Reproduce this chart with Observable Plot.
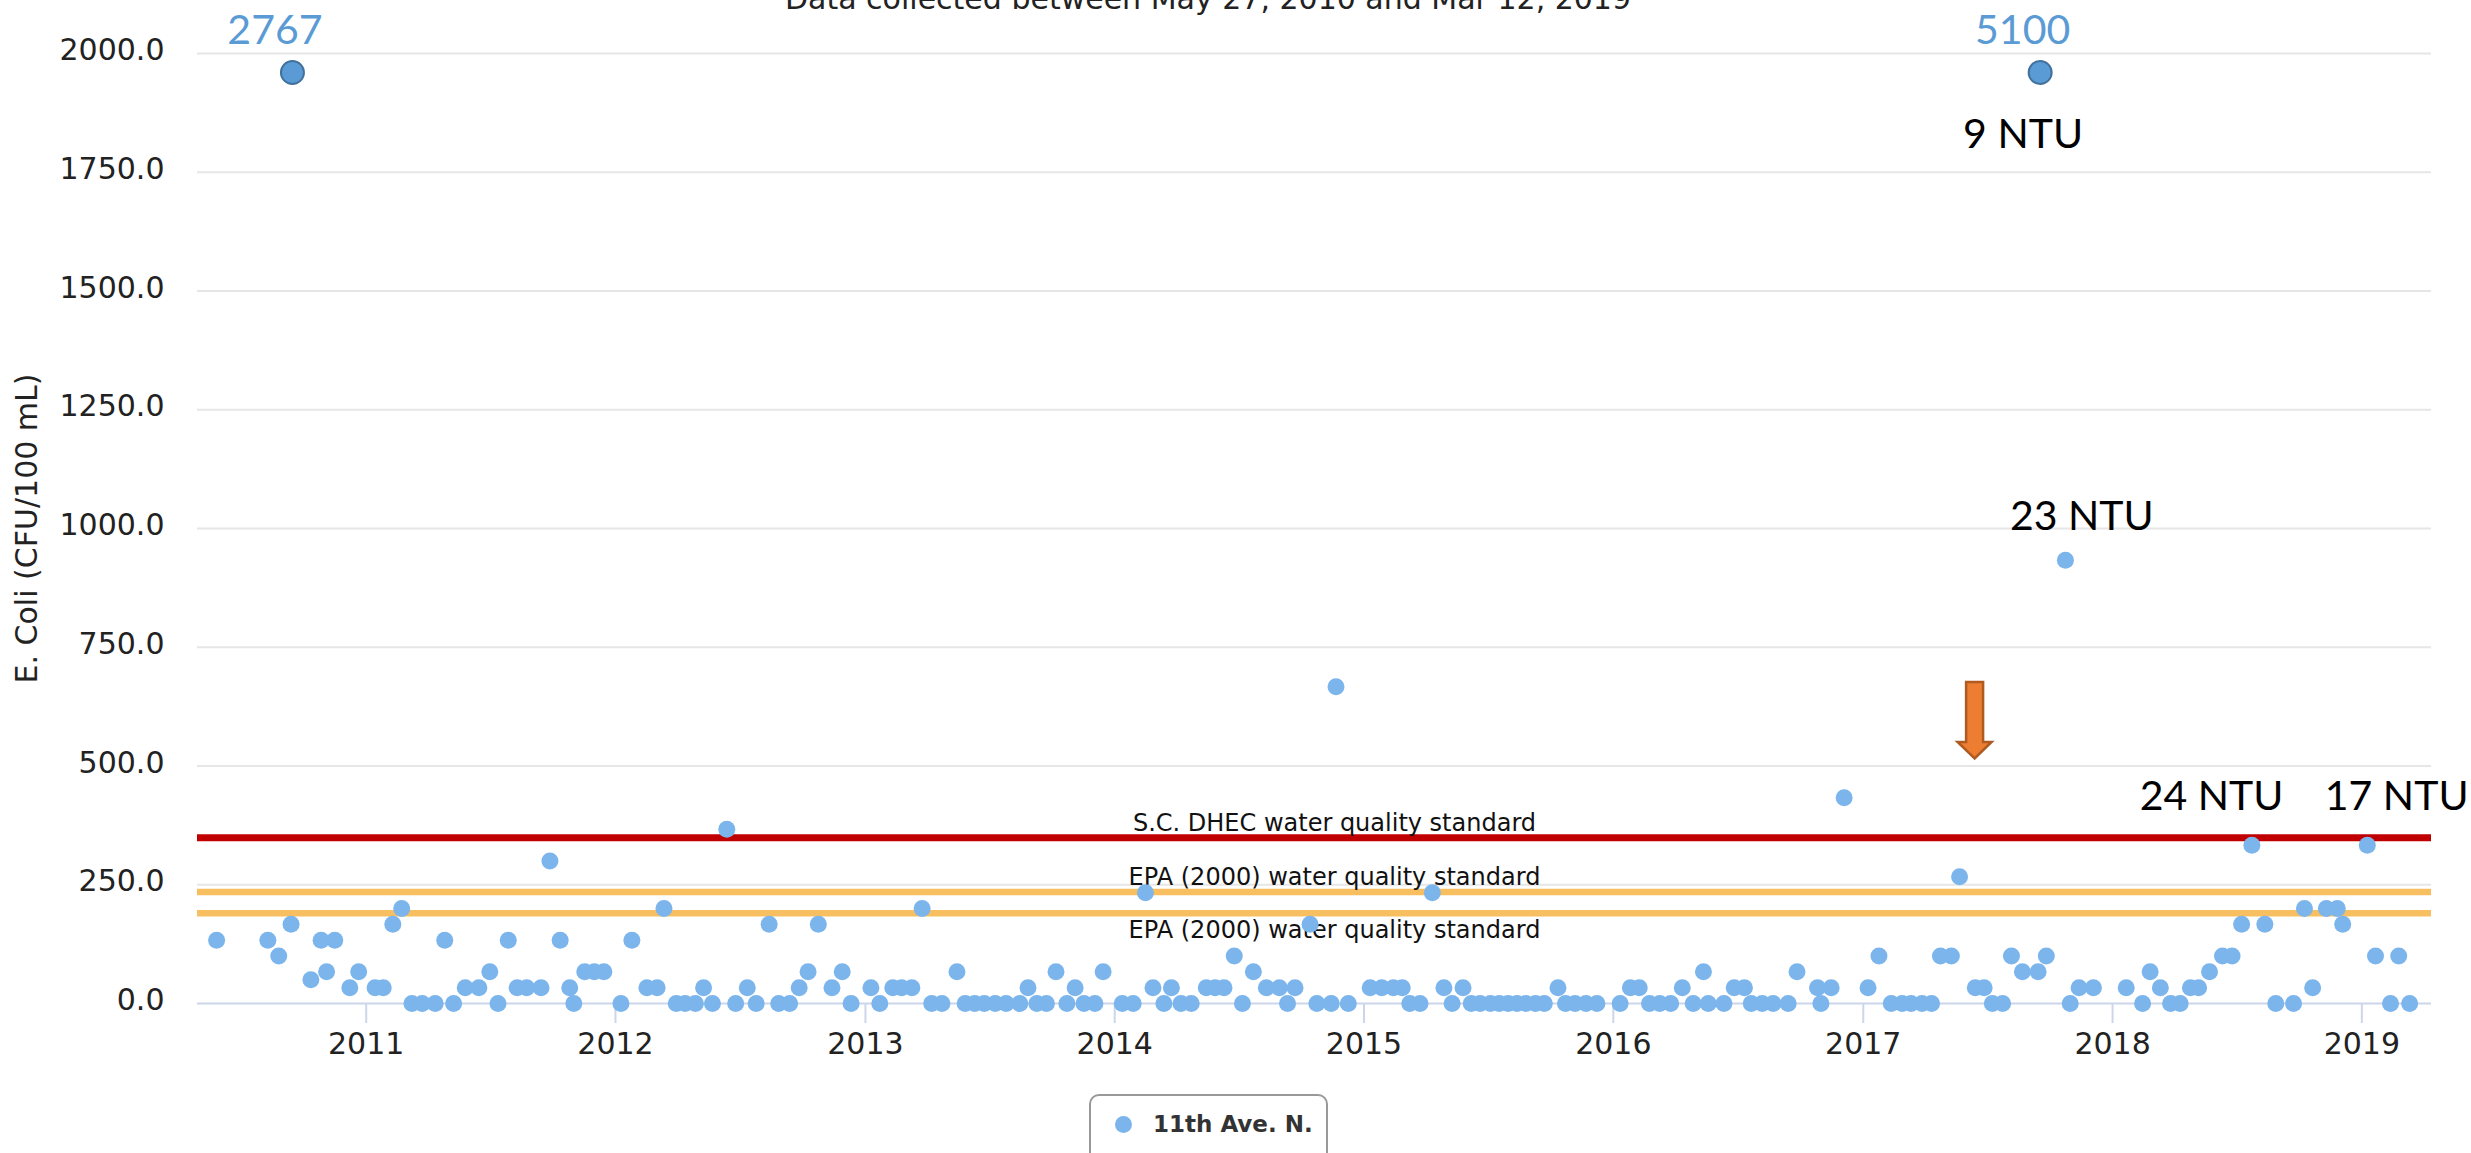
<!DOCTYPE html>
<html>
<head>
<meta charset="utf-8">
<script src="https://cdn.jsdelivr.net/npm/d3@7"></script>
<script src="https://cdn.jsdelivr.net/npm/@observablehq/plot@0.6"></script>
<style>
html, body { margin: 0; padding: 0; background: #fff; overflow: hidden; }
#wrap { position: relative; width: 2471px; height: 1153px; overflow: hidden; font-family: "DejaVu Sans", sans-serif; }
#title { position: absolute; left: 0; top: -16px; width: 2416px; text-align: center; font-size: 30px; line-height: 30px; color: #222; white-space: nowrap; }
#chart { position: absolute; left: 0; top: 0; }
#legend { position: absolute; left: 1089px; top: 1094px; width: 239px; height: 70px; box-sizing: border-box; border: 2px solid #999; border-radius: 10px; background: #fff; }
#legend .sym { position: absolute; left: 23.5px; top: 19.5px; width: 17px; height: 17px; border-radius: 50%; background: #7cb5ec; }
#legend .lab { position: absolute; left: 62px; top: 17px; font-size: 23px; line-height: 23px; font-weight: bold; color: #333; white-space: nowrap; }
</style>
</head>
<body>
<div id="wrap">
  <div id="chart"></div>
  <div id="title"></div>
  <div id="legend"><span class="sym"></span><span class="lab"></span></div>
</div>
<script>
// ---------------- DATA ----------------
const subtitleText = "Data collected between May 27, 2010 and Mar 12, 2019";
const seriesName = "11th Ave. N.";
const yAxisTitle = "E. Coli (CFU/100 mL)";

const sampleDates = [
  "2010-05-27","2010-08-10","2010-08-26","2010-09-13","2010-10-12","2010-10-27","2010-11-04","2010-11-16","2010-12-08","2010-12-21",
  "2011-01-14","2011-01-26","2011-02-09","2011-02-22","2011-03-09","2011-03-24","2011-04-12","2011-04-26","2011-05-09","2011-05-26",
  "2011-06-15","2011-07-01","2011-07-13","2011-07-28","2011-08-10","2011-08-24","2011-09-14","2011-09-27","2011-10-12","2011-10-26",
  "2011-11-01","2011-11-17","2011-12-01","2011-12-15",
  "2012-01-09","2012-01-25","2012-02-16","2012-03-02","2012-03-12","2012-03-30","2012-04-12","2012-04-27","2012-05-09","2012-05-22",
  "2012-06-12","2012-06-25","2012-07-12","2012-07-25","2012-08-13","2012-08-27","2012-09-12","2012-09-26","2012-10-09","2012-10-24",
  "2012-11-13","2012-11-28","2012-12-11",
  "2013-01-09","2013-01-22","2013-02-10","2013-02-23","2013-03-10","2013-03-25","2013-04-08","2013-04-23","2013-05-15","2013-05-27",
  "2013-06-10","2013-06-24","2013-07-10","2013-07-26","2013-08-15","2013-08-27","2013-09-09","2013-09-23","2013-10-07","2013-10-23",
  "2013-11-04","2013-11-17","2013-12-03","2013-12-15",
  "2014-01-12","2014-01-28","2014-02-15","2014-02-26","2014-03-14","2014-03-25","2014-04-08","2014-04-23","2014-05-15","2014-05-28",
  "2014-06-10","2014-06-25","2014-07-07","2014-07-23","2014-08-11","2014-08-30","2014-09-11","2014-09-22","2014-10-14","2014-10-24",
  "2014-11-14","2014-11-21","2014-12-09",
  "2015-01-10","2015-01-27","2015-02-13","2015-02-26","2015-03-09","2015-03-24","2015-04-11","2015-04-28","2015-05-10","2015-05-26",
  "2015-06-07","2015-06-20","2015-07-05","2015-07-18","2015-07-31","2015-08-13","2015-08-26","2015-09-09","2015-09-22","2015-10-12",
  "2015-10-23","2015-11-06","2015-11-22","2015-12-08",
  "2016-01-11","2016-01-26","2016-02-08","2016-02-23","2016-03-09","2016-03-25","2016-04-11","2016-04-27","2016-05-12","2016-05-19",
  "2016-06-11","2016-06-26","2016-07-11","2016-07-21","2016-08-06","2016-08-22","2016-09-13","2016-09-26","2016-10-26","2016-10-31",
  "2016-11-15","2016-12-04",
  "2017-01-08","2017-01-24","2017-02-11","2017-02-27","2017-03-12","2017-03-28","2017-04-11","2017-04-24","2017-05-10","2017-05-22",
  "2017-06-14","2017-06-27","2017-07-09","2017-07-24","2017-08-06","2017-08-22","2017-09-14","2017-09-26","2017-10-24","2017-10-31",
  "2017-11-13","2017-12-04",
  "2018-01-21","2018-02-14","2018-02-25","2018-03-12","2018-03-27","2018-04-10","2018-04-25","2018-05-07","2018-05-23","2018-06-11",
  "2018-06-25","2018-07-09","2018-07-24","2018-08-12","2018-08-28","2018-09-23","2018-10-09","2018-10-21","2018-11-10","2018-11-26",
  "2018-12-04",
  "2019-01-09","2019-01-21","2019-02-12","2019-02-24","2019-03-12"
];
const sampleValues = [
  133,133,100,167,50,133,67,133,33,67,
  33,33,167,200,0,0,0,133,0,33,
  33,67,0,133,33,33,33,300,133,33,
  0,67,67,67,
  0,133,33,33,200,0,0,0,33,0,
  367,0,33,0,167,0,0,33,67,167,
  33,67,0,
  33,0,33,33,33,200,0,0,67,0,
  0,0,0,0,0,33,0,0,67,0,
  33,0,0,67,
  0,0,233,33,0,33,0,0,33,33,
  33,100,0,67,33,33,0,33,167,0,
  0,667,0,
  33,33,33,33,0,0,233,33,0,33,
  0,0,0,0,0,0,0,0,0,33,
  0,0,0,0,
  0,33,33,0,0,0,33,0,67,0,
  0,33,33,0,0,0,0,67,33,0,
  33,433,
  33,100,0,0,0,0,0,100,100,267,
  33,33,0,0,100,67,67,100,933,0,
  33,33,
  33,0,67,33,0,0,33,33,67,100,
  100,167,333,167,0,0,200,33,200,200,
  167,
  333,100,0,100,0
];

// Values above the axis maximum (shown as call-outs at the top of the chart)
const offScaleDates = ["2010-09-15", "2017-09-17"];
const offScaleValues = [2767, 5100];
const offScaleShownAt = 1960;

// Turbidity call-outs
const ntuLabels = ["9 NTU", "23 NTU", "24 NTU", "17 NTU"];
const ntuDates = ["2017-08-23", "2017-11-17", "2018-05-26", "2019-02-21"];
const ntuValues = [1829, 1024, 434, 434];

// Water quality standards
const thresholdValues = [349, 235, 190];
const thresholdNames = ["S.C. DHEC water quality standard", "EPA (2000) water quality standard", "EPA (2000) water quality standard"];

// Event arrow
const arrowDates = ["2017-06-13"];
const arrowValues = [516];

// Axes
const yTicks = [0, 250, 500, 750, 1000, 1250, 1500, 1750, 2000];
const xTickYears = [2011, 2012, 2013, 2014, 2015, 2016, 2017, 2018, 2019];
const xDomain = ["2010-04-29", "2019-04-13"];

// ---------------- BUILD ----------------
const parse = d3.utcParse("%Y-%m-%d");
const samples = sampleDates.map((d, i) => ({date: parse(d), value: sampleValues[i]}));
const offScale = offScaleDates.map((d, i) => ({date: parse(d), value: offScaleValues[i]}));
const ntu = ntuLabels.map((t, i) => ({label: t, date: parse(ntuDates[i]), value: ntuValues[i]}));
const thresholds = thresholdValues.map((v, i) => ({value: v, name: thresholdNames[i]}));
const arrows = arrowDates.map((d, i) => ({date: parse(d), value: arrowValues[i]}));
const xTicks = xTickYears.map(y => new Date(Date.UTC(y, 0, 1)));

const blockArrow = {
  draw(ctx) {
    ctx.moveTo(0, 0);
    ctx.lineTo(-17, -16.5);
    ctx.lineTo(-8.5, -16.5);
    ctx.lineTo(-8.5, -76.5);
    ctx.lineTo(8.5, -76.5);
    ctx.lineTo(8.5, -16.5);
    ctx.lineTo(17, -16.5);
    ctx.closePath();
  }
};

document.getElementById("title").textContent = subtitleText;
document.querySelector("#legend .lab").textContent = seriesName;

const chart = Plot.plot({
  width: 2471,
  height: 1075,
  marginTop: 53,
  marginBottom: 72,
  marginLeft: 197,
  marginRight: 40,
  style: {fontFamily: '"DejaVu Sans", sans-serif', fontSize: "30px", color: "#222", background: "transparent", overflow: "visible"},
  x: {type: "utc", domain: xDomain.map(parse)},
  y: {domain: [0, 2000]},
  marks: [
    Plot.ruleY(yTicks.filter(v => v > 0), {stroke: "#e6e6e6", strokeWidth: 2}),
    Plot.ruleY(thresholds.slice(0, 1), {y: "value", stroke: "#c00000", strokeWidth: 7}),
    Plot.ruleY(thresholds.slice(1), {y: "value", stroke: "#f8bf60", strokeWidth: 6.5}),
    Plot.ruleY([0], {stroke: "#ccd6eb", strokeWidth: 2}),
    Plot.axisX({ticks: xTicks, tickFormat: d3.utcFormat("%Y"), tickSize: 20, tickPadding: 9, stroke: "#ccd6eb", strokeWidth: 2, fill: "#222", label: null}),
    Plot.axisY({ticks: yTicks, tickFormat: d3.format(".1f"), tickSize: 0, tickPadding: 33, dy: -3, fill: "#222", label: null}),
    Plot.text([yAxisTitle], {frameAnchor: "left", textAnchor: "middle", rotate: -90, dx: -170, fontSize: 30, fill: "#222"}),
    Plot.text(thresholds.slice(0, 2), {y: "value", text: "name", frameAnchor: "middle", dx: 20, dy: -14.5, fontSize: 24, fill: "#111"}),
    Plot.text(thresholds.slice(2), {y: "value", text: "name", frameAnchor: "middle", dx: 20, dy: 17.5, fontSize: 24, fill: "#111"}),
    Plot.dot(samples, {x: "date", y: "value", r: 8.5, fill: "#7cb5ec"}),
    Plot.dot(offScale, {x: "date", y: () => offScaleShownAt, r: 11.5, fill: "#5b9bd5", stroke: "#41719c", strokeWidth: 2}),
    Plot.text(offScale, {x: "date", y: () => offScaleShownAt, text: d => String(d.value), dx: -17.5, dy: -42, fontFamily: "Lato, sans-serif", fontSize: 41, fill: "#5b9bd5"}),
    Plot.text(ntu, {x: "date", y: "value", text: "label", fontFamily: "Lato, sans-serif", fontSize: 41, fill: "#000"}),
    Plot.dot(arrows, {x: "date", y: "value", symbol: blockArrow, r: 10, fill: "#ed7d31", stroke: "#ae5a21", strokeWidth: 2.5})
  ]
});
document.getElementById("chart").appendChild(chart);
</script>
</body>
</html>
